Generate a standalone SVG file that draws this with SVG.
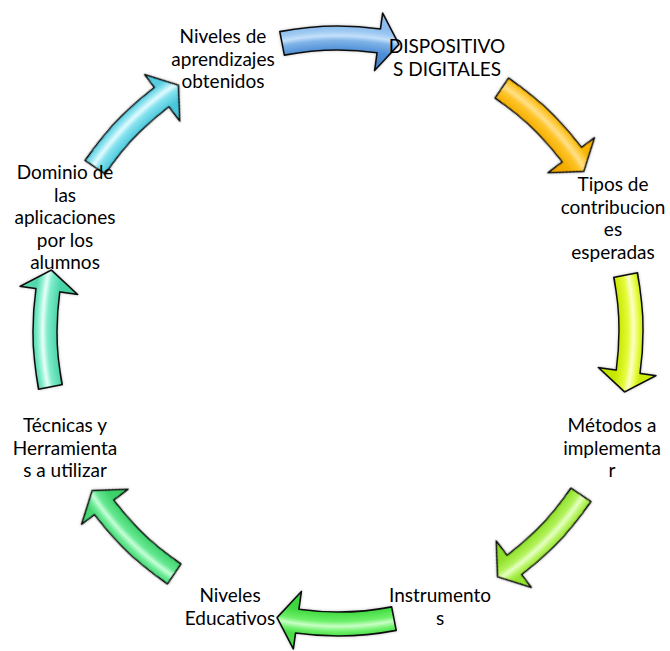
<svg xmlns="http://www.w3.org/2000/svg" xmlns:xlink="http://www.w3.org/1999/xlink" width="670" height="651" viewBox="0 0 670 651">
<style>
  .lbl { font-family: "Lato", "Liberation Sans", sans-serif; font-size: 19px; fill: #000; text-anchor: middle; }
  .arr { stroke: #111; stroke-width: 1.6; stroke-linejoin: round; filter: url(#sh); }
</style>
<defs>
  <filter id="sh" x="-20%" y="-20%" width="140%" height="140%">
    <feDropShadow dx="0" dy="0" stdDeviation="1.5" flood-color="#000" flood-opacity="0.25"/>
  </filter>
  <path id="arrowShape" d="M -58.20 -299.40 A 305 305 0 0 1 42.45 -302.03 L 44.67 -317.88 L 60.92 -286.60 L 36.60 -260.44 L 39.11 -278.27 A 281 281 0 0 0 -53.62 -275.84 Z"/>
  <radialGradient id="g0" gradientUnits="userSpaceOnUse" cx="0" cy="0" r="321">
    <stop offset="0.82" stop-color="#3f7fcc"/><stop offset="0.875" stop-color="#4f8fd6"/><stop offset="0.905" stop-color="#7fb3e8"/><stop offset="0.92" stop-color="#c4e0fa"/><stop offset="0.935" stop-color="#9ec9f2"/><stop offset="0.95" stop-color="#8cbdee"/><stop offset="1" stop-color="#8cbdee"/>
  </radialGradient>
  <radialGradient id="g1" gradientUnits="userSpaceOnUse" cx="0" cy="0" r="321">
    <stop offset="0.82" stop-color="#f0a400"/><stop offset="0.875" stop-color="#f4ae00"/><stop offset="0.905" stop-color="#ffc42a"/><stop offset="0.92" stop-color="#ffe08a"/><stop offset="0.935" stop-color="#ffcc40"/><stop offset="0.95" stop-color="#f7b400"/><stop offset="1" stop-color="#f7b400"/>
  </radialGradient>
  <radialGradient id="g2" gradientUnits="userSpaceOnUse" cx="0" cy="0" r="321">
    <stop offset="0.82" stop-color="#bfe000"/><stop offset="0.875" stop-color="#c8e800"/><stop offset="0.905" stop-color="#e4fb3a"/><stop offset="0.92" stop-color="#fbffc8"/><stop offset="0.935" stop-color="#e8fd50"/><stop offset="0.95" stop-color="#cdeb10"/><stop offset="1" stop-color="#cdeb10"/>
  </radialGradient>
  <radialGradient id="g3" gradientUnits="userSpaceOnUse" cx="0" cy="0" r="321">
    <stop offset="0.82" stop-color="#86da24"/><stop offset="0.875" stop-color="#8ee02a"/><stop offset="0.905" stop-color="#b2f25a"/><stop offset="0.92" stop-color="#e6ffc4"/><stop offset="0.935" stop-color="#b8f464"/><stop offset="0.95" stop-color="#96e432"/><stop offset="1" stop-color="#96e432"/>
  </radialGradient>
  <radialGradient id="g4" gradientUnits="userSpaceOnUse" cx="0" cy="0" r="321">
    <stop offset="0.82" stop-color="#38d438"/><stop offset="0.875" stop-color="#3fd93f"/><stop offset="0.905" stop-color="#6ef06a"/><stop offset="0.92" stop-color="#c8ffc6"/><stop offset="0.935" stop-color="#74f270"/><stop offset="0.95" stop-color="#48de46"/><stop offset="1" stop-color="#48de46"/>
  </radialGradient>
  <radialGradient id="g5" gradientUnits="userSpaceOnUse" cx="0" cy="0" r="321">
    <stop offset="0.82" stop-color="#36cc64"/><stop offset="0.875" stop-color="#3ed36c"/><stop offset="0.905" stop-color="#66e892"/><stop offset="0.92" stop-color="#c6ffd8"/><stop offset="0.935" stop-color="#6cea96"/><stop offset="0.95" stop-color="#46d874"/><stop offset="1" stop-color="#46d874"/>
  </radialGradient>
  <radialGradient id="g6" gradientUnits="userSpaceOnUse" cx="0" cy="0" r="321">
    <stop offset="0.82" stop-color="#40cc9e"/><stop offset="0.875" stop-color="#48d3a8"/><stop offset="0.905" stop-color="#7eecc9"/><stop offset="0.92" stop-color="#e6fff8"/><stop offset="0.935" stop-color="#86eecc"/><stop offset="0.95" stop-color="#52d8ae"/><stop offset="1" stop-color="#52d8ae"/>
  </radialGradient>
  <radialGradient id="g7" gradientUnits="userSpaceOnUse" cx="0" cy="0" r="321">
    <stop offset="0.82" stop-color="#44c0d6"/><stop offset="0.875" stop-color="#4cc8dc"/><stop offset="0.905" stop-color="#86e2ef"/><stop offset="0.92" stop-color="#e2fbff"/><stop offset="0.935" stop-color="#8ee4f0"/><stop offset="0.95" stop-color="#58cde0"/><stop offset="1" stop-color="#58cde0"/>
  </radialGradient>
</defs>
<rect width="670" height="651" fill="#fff"/>
<g id="connectors">
  <use xlink:href="#arrowShape" class="arr" fill="url(#g0)" transform="translate(338 331) rotate(0)"/>
  <use xlink:href="#arrowShape" class="arr" fill="url(#g1)" transform="translate(338 331) rotate(45)"/>
  <use xlink:href="#arrowShape" class="arr" fill="url(#g2)" transform="translate(338 331) rotate(90)"/>
  <use xlink:href="#arrowShape" class="arr" fill="url(#g3)" transform="translate(338 331) rotate(135)"/>
  <use xlink:href="#arrowShape" class="arr" fill="url(#g4)" transform="translate(338 331) rotate(180)"/>
  <use xlink:href="#arrowShape" class="arr" fill="url(#g5)" transform="translate(338 331) rotate(225)"/>
  <use xlink:href="#arrowShape" class="arr" fill="url(#g6)" transform="translate(338 331) rotate(270)"/>
  <use xlink:href="#arrowShape" class="arr" fill="url(#g7)" transform="translate(338 331) rotate(315)"/>
</g>
<g id="node-niveles-aprendizajes">
  <text class="lbl" x="223" y="43">Niveles de</text>
  <text class="lbl" x="223" y="65.5">aprendizajes</text>
  <text class="lbl" x="223" y="88">obtenidos</text>
</g>
<g id="node-dispositivos">
  <text class="lbl" x="447" y="53">DISPOSITIVO</text>
  <text class="lbl" x="447" y="75.5">S DIGITALES</text>
</g>
<g id="node-tipos">
  <text class="lbl" x="613" y="191">Tipos de</text>
  <text class="lbl" x="613" y="213.5">contribucion</text>
  <text class="lbl" x="613" y="236">es</text>
  <text class="lbl" x="613" y="258.5">esperadas</text>
</g>
<g id="node-metodos">
  <text class="lbl" x="612" y="432">Métodos a</text>
  <text class="lbl" x="612" y="454.5">implementa</text>
  <text class="lbl" x="612" y="477">r</text>
</g>
<g id="node-instrumentos">
  <text class="lbl" x="440" y="602">Instrumento</text>
  <text class="lbl" x="440" y="624.5">s</text>
</g>
<g id="node-niveles-educativos">
  <text class="lbl" x="230" y="602">Niveles</text>
  <text class="lbl" x="230" y="624.5">Educativos</text>
</g>
<g id="node-tecnicas">
  <text class="lbl" x="65" y="432">Técnicas y</text>
  <text class="lbl" x="65" y="454.5">Herramienta</text>
  <text class="lbl" x="65" y="477">s a utilizar</text>
</g>
<g id="node-dominio">
  <text class="lbl" x="65" y="179">Dominio de</text>
  <text class="lbl" x="65" y="201.5">las</text>
  <text class="lbl" x="65" y="224">aplicaciones</text>
  <text class="lbl" x="65" y="246.5">por los</text>
  <text class="lbl" x="65" y="269">alumnos</text>
</g>
</svg>
